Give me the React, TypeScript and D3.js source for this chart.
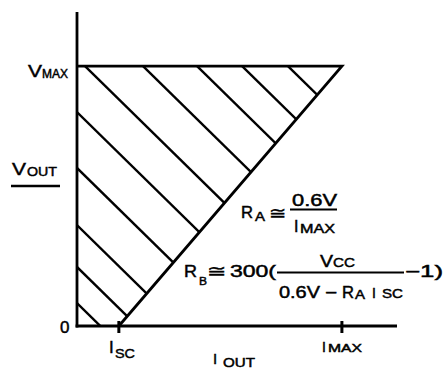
import React from "react";
import * as d3 from "d3";

// Normalised values (I_MAX = 1, V_MAX = 1)
const iSC = 0.158;
const iMAX = 1.0;
const vMAX = 1.0;
const axisMaxI = 1.208;
const axisMaxV = 1.208;
// operating-area boundary: (I, V) points
const boundaryI = [0, iSC, iMAX, 0];
const boundaryV = [0, 0, vMAX, vMAX];
// hatch lines: I + V = k
const hatchK = [0.088, 0.227, 0.388, 0.608, 0.823, 1.03, 1.249, 1.453, 1.623, 1.796];
const xTickValues = [iSC, iMAX];

const W = 445;
const H = 372;
const FONT = "'Liberation Sans', Arial, Helvetica, sans-serif";

export default function App() {
  const x = d3.scaleLinear().domain([0, axisMaxI]).range([77, 397]);
  const y = d3.scaleLinear().domain([0, axisMaxV]).range([326, 12]);

  const pts: [number, number][] = boundaryI.map((b, i) => [x(b), y(boundaryV[i])]);
  const line = d3.line();
  const polyPath = line(pts) + "Z";
  const outline = line([
    [x(0), y(vMAX)],
    [x(iMAX), y(vMAX)],
    [x(iSC), y(0)],
  ]);

  const T = (p: any) => (
    <text
      x={p.x}
      y={p.y}
      fontSize={p.fs}
      textLength={p.tl}
      lengthAdjust={p.tl ? "spacingAndGlyphs" : undefined}
      fontFamily={FONT}
      fill="#000"
      stroke="#000"
      strokeWidth={0.45}
    >
      {p.children}
    </text>
  );

  return (
    <svg
      width={W}
      height={H}
      style={{ position: "absolute", left: 0, top: 0, background: "#fff" }}
    >
      <defs>
        <clipPath id="area">
          <path d={polyPath} />
        </clipPath>
      </defs>
      <g clipPath="url(#area)">
        {hatchK.map((k, i) => (
          <line
            key={i}
            x1={x(k + 0.2)}
            y1={y(-0.2)}
            x2={x(-0.2)}
            y2={y(k + 0.2)}
            stroke="#000"
            strokeWidth={2.4}
          />
        ))}
      </g>
      <path d={outline!} fill="none" stroke="#000" strokeWidth={2.8} strokeLinejoin="miter" />
      {/* axes */}
      <line x1={x(0)} y1={y(axisMaxV)} x2={x(0)} y2={y(0) + 1.4} stroke="#000" strokeWidth={2.8} />
      <line x1={x(0) - 1.4} y1={y(0)} x2={x(axisMaxI)} y2={y(0)} stroke="#000" strokeWidth={2.8} />
      {xTickValues.map((t, i) => (
        <line key={i} x1={x(t)} y1={y(0) - 5} x2={x(t)} y2={y(0) + 7} stroke="#000" strokeWidth={3} />
      ))}

      {/* V_MAX */}
      <T x={28} y={77} fs={17} tl={14}>V</T>
      <T x={42} y={78} fs={12} tl={26}>MAX</T>
      {/* V_OUT */}
      <T x={12} y={175} fs={17} tl={14}>V</T>
      <T x={27} y={176} fs={12} tl={30}>OUT</T>
      <line x1={11} y1={186} x2={60} y2={186} stroke="#000" strokeWidth={2.4} />
      {/* 0 */}
      <T x={60} y={333} fs={17}>0</T>
      {/* I_SC */}
      <T x={109} y={353} fs={17}>I</T>
      <T x={115} y={358} fs={13} tl={20}>SC</T>
      {/* I_OUT */}
      <T x={213} y={364} fs={15}>I</T>
      <T x={223} y={367} fs={12} tl={32}>OUT</T>
      {/* I_MAX tick label */}
      <T x={322} y={352} fs={14}>I</T>
      <T x={328} y={352} fs={11} tl={34}>MAX</T>

      {/* R_A formula */}
      <T x={241} y={218} fs={16} tl={12}>R</T>
      <T x={255} y={221} fs={12} tl={10}>A</T>
      <T x={269} y={219} fs={17} tl={17}>≅</T>
      <T x={292} y={206} fs={16} tl={45}>0.6V</T>
      <line x1={290} y1={209.5} x2={337} y2={209.5} stroke="#000" strokeWidth={1.8} />
      <T x={294} y={232} fs={16}>I</T>
      <T x={300} y={233} fs={12} tl={35}>MAX</T>

      {/* R_B formula */}
      <T x={184} y={277} fs={16} tl={13}>R</T>
      <T x={199} y={285} fs={11} tl={8}>B</T>
      <T x={207} y={277} fs={17} tl={19}>≅</T>
      <T x={230} y={277} fs={16} tl={46}>300(</T>
      <line x1={277} y1={272.5} x2={404} y2={272.5} stroke="#000" strokeWidth={1.8} />
      <T x={405} y={277} fs={16} tl={38}>−1)</T>
      <T x={320} y={267} fs={16} tl={13}>V</T>
      <T x={333} y={267} fs={13} tl={22}>CC</T>
      <T x={279} y={298} fs={16} tl={41}>0.6V</T>
      <T x={325} y={298} fs={16} tl={12}>−</T>
      <T x={342} y={298} fs={16} tl={12}>R</T>
      <T x={355} y={299} fs={12} tl={10}>A</T>
      <T x={372} y={298} fs={14}>I</T>
      <T x={382} y={298} fs={12} tl={21}>SC</T>
    </svg>
  );
}
